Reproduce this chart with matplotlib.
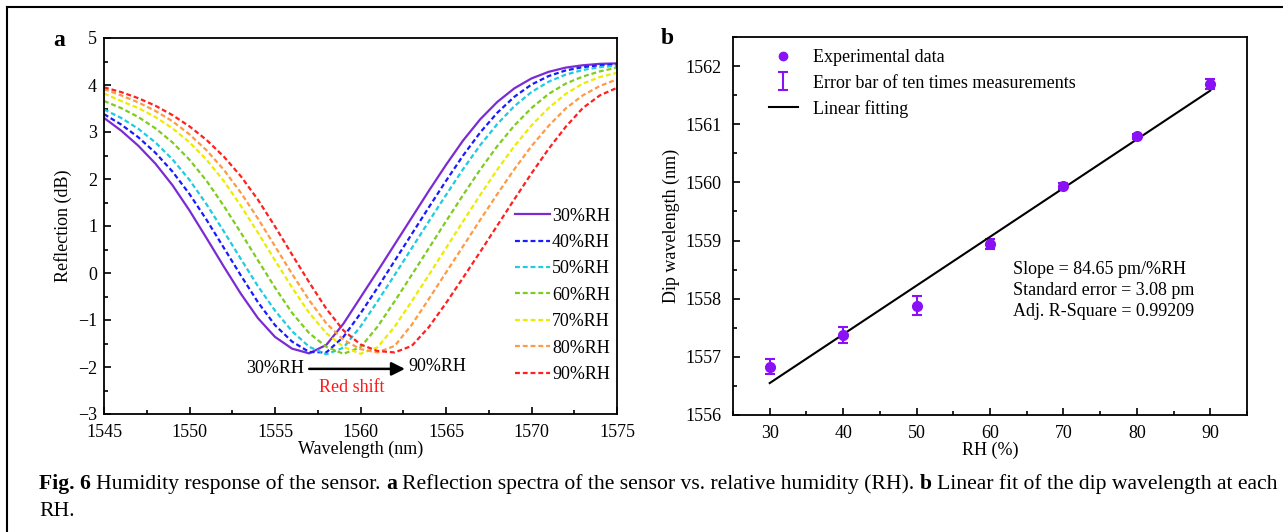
import numpy as np
import matplotlib
matplotlib.use("Agg")
import matplotlib.pyplot as plt
from matplotlib.lines import Line2D
from matplotlib.ticker import MultipleLocator

plt.rcParams['font.family'] = 'Liberation Serif'
plt.rcParams['font.size'] = 13

# panel a: reflection spectra (1 nm steps)
wavelength = [1545, 1546, 1547, 1548, 1549, 1550, 1551, 1552, 1553, 1554, 1555,
              1556, 1557, 1558, 1559, 1560, 1561, 1562, 1563, 1564, 1565,
              1566, 1567, 1568, 1569, 1570, 1571, 1572, 1573, 1574, 1575]
rh30 = [3.30, 3.03, 2.71, 2.33, 1.87, 1.33, 0.74, 0.14, -0.44, -0.96, -1.36,
        -1.61, -1.71, -1.53, -1.08, -0.52, 0.04, 0.61, 1.18, 1.75, 2.30,
        2.82, 3.27, 3.64, 3.93, 4.14, 4.28, 4.37, 4.42, 4.45, 4.46]
rh40 = [3.38, 3.16, 2.89, 2.56, 2.16, 1.68, 1.13, 0.54, -0.05, -0.62, -1.11,
        -1.46, -1.68, -1.69, -1.36, -0.86, -0.31, 0.26, 0.83, 1.40, 1.96,
        2.50, 2.99, 3.41, 3.75, 4.01, 4.19, 4.31, 4.38, 4.42, 4.44]
rh50 = [3.48, 3.30, 3.07, 2.78, 2.42, 1.98, 1.46, 0.89, 0.30, -0.28, -0.80,
        -1.24, -1.57, -1.73, -1.59, -1.14, -0.60, -0.04, 0.53, 1.10, 1.66,
        2.21, 2.72, 3.17, 3.55, 3.85, 4.07, 4.22, 4.32, 4.38, 4.41]
rh60 = [3.66, 3.51, 3.32, 3.08, 2.78, 2.41, 1.96, 1.43, 0.86, 0.27, -0.31,
        -0.85, -1.28, -1.57, -1.72, -1.58, -1.14, -0.60, -0.04, 0.53, 1.10,
        1.66, 2.20, 2.70, 3.14, 3.51, 3.81, 4.03, 4.18, 4.29, 4.37]
rh70 = [3.82, 3.66, 3.51, 3.32, 3.08, 2.78, 2.41, 1.96, 1.43, 0.86, 0.27,
        -0.31, -0.85, -1.28, -1.57, -1.72, -1.58, -1.14, -0.60, -0.04, 0.53,
        1.10, 1.66, 2.20, 2.70, 3.14, 3.51, 3.81, 4.03, 4.17, 4.26]
rh80 = [3.91, 3.78, 3.63, 3.45, 3.23, 2.95, 2.61, 2.20, 1.71, 1.16, 0.57,
        -0.02, -0.58, -1.07, -1.42, -1.62, -1.69, -1.55, -1.10, -0.55, 0.01,
        0.57, 1.13, 1.68, 2.21, 2.70, 3.13, 3.50, 3.78, 3.98, 4.12]
rh90 = [3.95, 3.85, 3.72, 3.56, 3.36, 3.12, 2.83, 2.48, 2.06, 1.56, 0.99,
        0.39, -0.20, -0.76, -1.22, -1.52, -1.66, -1.69, -1.55, -1.15, -0.64,
        -0.10, 0.45, 1.01, 1.57, 2.12, 2.64, 3.11, 3.51, 3.78, 3.94]
spectra = [rh30, rh40, rh50, rh60, rh70, rh80, rh90]
labels = ['30%RH', '40%RH', '50%RH', '60%RH', '70%RH', '80%RH', '90%RH']
colors = ['#7B2BD4', '#1A1AFF', '#1ECBE0', '#7DCC1E', '#ECEC00', '#FF9A45', '#FF2020']

# panel b: dip wavelength vs RH
rh = [30, 40, 50, 60, 70, 80, 90]
dip = [1556.83, 1557.375, 1557.88, 1558.94, 1559.94, 1560.79, 1561.69]
dip_err = [0.13, 0.13, 0.16, 0.09, 0.05, 0.04, 0.09]

W, H = 1283, 532
fig = plt.figure(figsize=(W / 100, H / 100), dpi=100)

# outer frame (top and left edges)
fig.add_artist(Line2D([7 / W, 1], [1 - 7 / H, 1 - 7 / H], transform=fig.transFigure, color='k', lw=1.5))
fig.add_artist(Line2D([7 / W, 7 / W], [0, 1 - 7 / H], transform=fig.transFigure, color='k', lw=1.5))

axA = fig.add_axes([104 / W, 118 / H, 513 / W, 376 / H])
axB = fig.add_axes([733 / W, 117 / H, 514 / W, 378 / H])

for ax in (axA, axB):
    for s in ax.spines.values():
        s.set_linewidth(1.3)
    ax.tick_params(which='both', direction='in', top=False, right=False, width=1.2, labelsize=13)
    ax.tick_params(which='major', length=5)
    ax.tick_params(which='minor', length=3)
    ax.tick_params(axis='x', pad=7)
axA.tick_params(axis='y', pad=5)
axB.tick_params(axis='y', pad=8)

# ---- panel a
for i in range(len(spectra)):
    if i == 0:
        axA.plot(wavelength, spectra[i], color=colors[i], lw=1.6, label=labels[i])
    else:
        axA.plot(wavelength, spectra[i], color=colors[i], lw=1.6, ls=(0, (2.2, 1.3)), label=labels[i])

axA.set_xlim(1545, 1575)
axA.set_ylim(-3, 5)
axA.xaxis.set_major_locator(MultipleLocator(5))
axA.xaxis.set_minor_locator(MultipleLocator(2.5))
axA.yaxis.set_major_locator(MultipleLocator(1))
axA.yaxis.set_minor_locator(MultipleLocator(0.5))
axA.set_xlabel('Wavelength (nm)', fontsize=13, labelpad=0)
axA.set_ylabel('Reflection (dB)', fontsize=13, labelpad=4)
axA.legend(loc='upper left', bbox_to_anchor=(0.801, 0.549), frameon=False, fontsize=13,
           borderpad=0, borderaxespad=0, handlelength=1.95, handletextpad=0.1, labelspacing=0.52)

axA.annotate('', xy=(1562.6, -2.04), xytext=(1557.0, -2.04),
             arrowprops=dict(arrowstyle='-|>', color='k', lw=1.8, mutation_scale=20, shrinkA=0, shrinkB=0))
axA.text(1556.7, -2.04, '30%RH', ha='right', va='center', fontsize=13)
axA.text(1562.8, -1.99, '90%RH', ha='left', va='center', fontsize=13)
axA.text(1559.5, -2.44, 'Red shift', ha='center', va='center', fontsize=13, color='#FF1A1A')

# ---- panel b
violet = '#8A10F5'
fit = np.polyfit(rh, dip, 1)
fit_x = np.array([rh[0], rh[-1]])
eb = axB.errorbar(rh, dip, yerr=dip_err, fmt='none', ecolor=violet, elinewidth=1.5, capsize=3.5, capthick=1.5)
axB.plot(rh, dip, 'o', color=violet, ms=7, zorder=3)
axB.plot(fit_x, np.polyval(fit, fit_x), color='k', lw=1.5)

axB.set_xlim(25, 95)
axB.set_ylim(1556, 1562.5)
axB.xaxis.set_major_locator(MultipleLocator(10))
axB.xaxis.set_minor_locator(MultipleLocator(5))
axB.yaxis.set_major_locator(MultipleLocator(1))
axB.yaxis.set_minor_locator(MultipleLocator(0.5))
axB.set_xlabel('RH (%)', fontsize=13, labelpad=0)
axB.set_ylabel('Dip wavelength (nm)', fontsize=13, labelpad=4)

h_data = Line2D([], [], ls='none', marker='o', color=violet, ms=6)
h_fit = Line2D([], [], color='k', lw=1.5)
axB.legend([h_data, eb, h_fit],
           ['Experimental data', 'Error bar of ten times measurements', 'Linear fitting'],
           loc='upper left', bbox_to_anchor=(0.07, 0.967), frameon=False, fontsize=13,
           borderpad=0, borderaxespad=0, handlelength=1.6, handletextpad=0.85, labelspacing=0.45)

axB.text(0.545, 0.408, 'Slope = 84.65 pm/%RH\nStandard error = 3.08 pm\nAdj. R-Square = 0.99209',
         transform=axB.transAxes, ha='left', va='top', fontsize=13, linespacing=1.3)

# panel letters
fig.text(59 / W, 1 - 40 / H, 'a', fontsize=17, weight='bold', ha='center', va='center')
fig.text(667 / W, 1 - 38 / H, 'b', fontsize=17, weight='bold', ha='center', va='center')

# caption with bold pieces, fitted to the reference line width
line1 = [('Fig. 6', True), ('Humidity response of the sensor.', False), ('a', True),
         ('Reflection spectra of the sensor vs. relative humidity (RH).', False), ('b', True),
         ('Linear fit of the dip wavelength at each', False)]
line2 = [('RH.', False)]
renderer = fig.canvas.get_renderer()


def text_w(s, size, bold):
    t = fig.text(0, 0, s, fontsize=size, weight='bold' if bold else 'normal')
    w = t.get_window_extent(renderer).width
    t.remove()
    return w


def line_width(parts, size):
    sp = text_w('a a', size, False) - text_w('aa', size, False)
    return sum(text_w(s, size, b) for s, b in parts) + sp * (len(parts) - 1)


size = 13 * 1234 / line_width(line1, 13)


def draw_line(parts, y):
    sp = text_w('a a', size, False) - text_w('aa', size, False)
    x = 39
    for s, b in parts:
        fig.text(x / W, 1 - y / H, s, fontsize=size, weight='bold' if b else 'normal', va='center')
        x += text_w(s, size, b) + sp


draw_line(line1, 484)
draw_line(line2, 511)

fig.savefig('out.png', dpi=100)
